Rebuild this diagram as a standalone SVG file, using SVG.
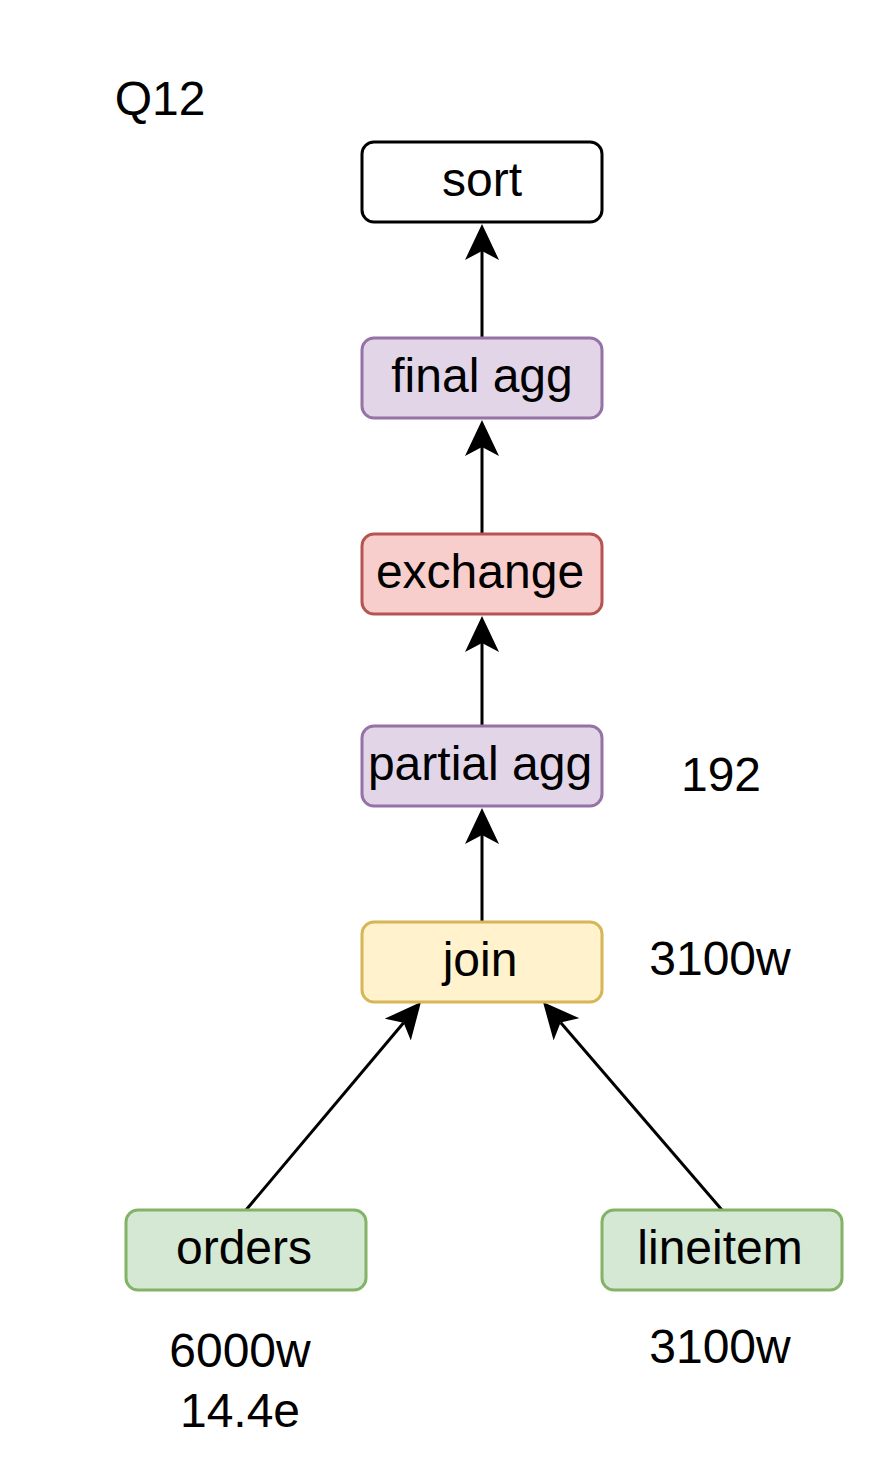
<svg xmlns="http://www.w3.org/2000/svg" width="884" height="1484" viewBox="0 0 884 1484">
<style>
.box{stroke-width:3}
.lbl{font-family:"Liberation Sans",Arial,Helvetica,sans-serif;font-size:48px;fill:#000;text-anchor:middle}
.txt{font-family:"Liberation Sans",Arial,Helvetica,sans-serif;font-size:48px;fill:#000;text-anchor:middle}
.edge{stroke:#000;stroke-width:3;fill:none}
</style>
<defs>
<marker id="arr" viewBox="0 0 36 34" refX="9" refY="17" markerWidth="36" markerHeight="34" markerUnits="userSpaceOnUse" orient="auto">
<path d="M36,17 L0,0 L9,17 L0,34 Z" fill="#000"/>
</marker>
</defs>
<rect width="884" height="1484" fill="#fff"/>
<g id="edges">
<line class="edge" x1="482" y1="338" x2="482" y2="251" marker-end="url(#arr)"/>
<line class="edge" x1="482" y1="534" x2="482" y2="447" marker-end="url(#arr)"/>
<line class="edge" x1="482" y1="726" x2="482" y2="643" marker-end="url(#arr)"/>
<line class="edge" x1="482" y1="922" x2="482" y2="835" marker-end="url(#arr)"/>
<line class="edge" x1="246" y1="1210" x2="403.6" y2="1022.7" marker-end="url(#arr)"/>
<line class="edge" x1="722" y1="1210" x2="560.6" y2="1022.5" marker-end="url(#arr)"/>
</g>
<g id="sort"><rect class="box" x="362" y="142" width="240" height="80" rx="12" fill="#fff" stroke="#000"/><text class="lbl" x="482" y="196">sort</text></g>
<g id="final-agg"><rect class="box" x="362" y="338" width="240" height="80" rx="12" fill="#e1d5e7" stroke="#9673a6"/><text class="lbl" x="482" y="392">final agg</text></g>
<g id="exchange"><rect class="box" x="362" y="534" width="240" height="80" rx="12" fill="#f8cecc" stroke="#b85450"/><text class="lbl" x="480" y="588">exchange</text></g>
<g id="partial-agg"><rect class="box" x="362" y="726" width="240" height="80" rx="12" fill="#e1d5e7" stroke="#9673a6"/><text class="lbl" x="480" y="780">partial agg</text></g>
<g id="join"><rect class="box" x="362" y="922" width="240" height="80" rx="12" fill="#fff2cc" stroke="#d6b656"/><text class="lbl" x="480" y="976">join</text></g>
<g id="orders"><rect class="box" x="126" y="1210" width="240" height="80" rx="12" fill="#d5e8d4" stroke="#82b366"/><text class="lbl" x="244" y="1264">orders</text></g>
<g id="lineitem"><rect class="box" x="602" y="1210" width="240" height="80" rx="12" fill="#d5e8d4" stroke="#82b366"/><text class="lbl" x="720" y="1264">lineitem</text></g>
<g id="labels">
<text class="txt" x="160" y="115">Q12</text>
<text class="txt" x="721" y="791">192</text>
<text class="txt" x="720" y="975">3100w</text>
<text class="txt" x="240" y="1367">6000w</text>
<text class="txt" x="240" y="1427">14.4e</text>
<text class="txt" x="720" y="1363">3100w</text>
</g>
</svg>
